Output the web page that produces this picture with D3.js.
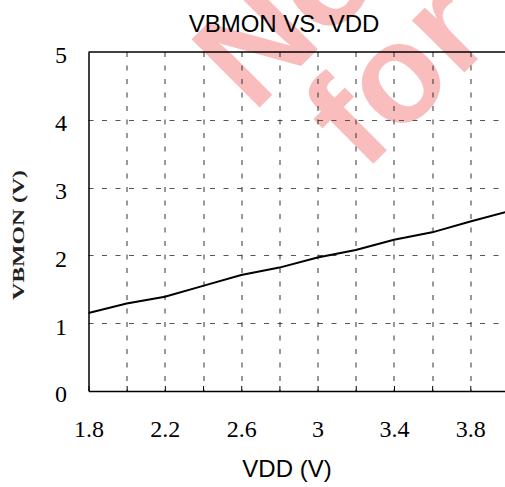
<!DOCTYPE html>
<html>
<head>
<meta charset="utf-8">
<script src="https://cdn.jsdelivr.net/npm/d3@7"></script>
<style>
  body { margin: 0; background: #fff; }
  svg { display: block; }
</style>
</head>
<body>
<script>
// VBMON vs VDD
var vdd = [1.8, 2.0, 2.2, 2.4, 2.6, 2.8, 3.0, 3.2, 3.4, 3.6, 3.8, 4.0];
var vbmon = [1.15, 1.29, 1.39, 1.55, 1.71, 1.82, 1.97, 2.08, 2.23, 2.34, 2.50, 2.65];
var xTicks = [1.8, 2.0, 2.2, 2.4, 2.6, 2.8, 3.0, 3.2, 3.4, 3.6, 3.8, 4.0];
var xLabels = ["1.8", "2.2", "2.6", "3", "3.4", "3.8"];
var yTicks = [0, 1, 2, 3, 4, 5];

var W = 505, H = 487;
var MARGINS = {left: 88.5, top: 52, right: -3.5, bottom: 96};
var width = W - MARGINS.left - MARGINS.right;
var height = H - MARGINS.top - MARGINS.bottom;

var xScale = d3.scaleLinear().domain([1.8, 4.0]).range([0, width]);
var yScale = d3.scaleLinear().domain([0, 5]).range([height, 0]);

var svg = d3.select("body").append("svg")
    .attr("width", W)
    .attr("height", H);

// watermark goes underneath everything (it is cut by the page edge in the original too)
var wm = svg.append("g")
    .style("font-family", "'Liberation Sans', Arial, sans-serif")
    .style("font-weight", "bold")
    .style("font-size", "140px")
    .attr("fill", "#fabdbd");
wm.append("text").attr("transform", "translate(253,114) rotate(-45)").text("Not");
wm.append("text").attr("transform", "translate(364,173) rotate(-45)").text("for");

var g = svg.append("g")
    .attr("transform", "translate(" + MARGINS.left + "," + MARGINS.top + ")");

// grid
g.selectAll(".hgrid").data(yTicks.slice(1, -1)).enter().append("line")
    .attr("x1", 0).attr("x2", width)
    .attr("y1", function (d) { return Math.round(yScale(d)) + 0.5; })
    .attr("y2", function (d) { return Math.round(yScale(d)) + 0.5; })
    .attr("stroke", "#555").attr("stroke-width", 1)
    .attr("stroke-dasharray", "5,8.5");
g.selectAll(".vgrid").data(xTicks.slice(1)).enter().append("line")
    .attr("x1", function (d) { return Math.round(xScale(d)) + 0.5; })
    .attr("x2", function (d) { return Math.round(xScale(d)) + 0.5; })
    .attr("y1", 0).attr("y2", height)
    .attr("stroke", "#333").attr("stroke-width", 1)
    .attr("stroke-dasharray", "5,8.5");

// top border
g.append("line").attr("x1", 0).attr("x2", width).attr("y1", 0).attr("y2", 0)
    .attr("stroke", "#000").attr("stroke-width", 1.5);

// axes
var xAxis = g.append("g")
    .attr("transform", "translate(0," + height + ")")
    .call(d3.axisBottom(xScale).tickValues(xTicks).tickSizeInner(-5).tickSizeOuter(0).tickPadding(29)
        .tickFormat(function (d, i) { return i % 2 === 0 ? xLabels[i / 2] : ""; }));
var yAxis = g.append("g")
    .call(d3.axisLeft(yScale).tickValues(yTicks).tickSizeInner(0).tickSizeOuter(0).tickPadding(21.5)
        .tickFormat(d3.format("d")));

[xAxis, yAxis].forEach(function (a) {
    a.select(".domain").attr("stroke", "#000").attr("stroke-width", 1.5);
    a.selectAll(".tick line").attr("stroke", "#000");
    a.selectAll("text")
        .attr("fill", "#000")
        .style("font-family", "'Liberation Serif', 'Times New Roman', serif")
        .style("font-weight", "normal")
        .style("font-size", "24px");
});
yAxis.selectAll("text").attr("dy", "0.45em");

// data line
var line = d3.line()
    .x(function (d, i) { return xScale(vdd[i]); })
    .y(function (d) { return yScale(d); });
g.append("path").datum(vbmon)
    .attr("d", line)
    .attr("fill", "none")
    .attr("stroke", "#000")
    .attr("stroke-width", 2);

// titles
svg.append("text")
    .attr("x", 284).attr("y", 32)
    .attr("text-anchor", "middle")
    .style("font-family", "'Liberation Sans', Arial, sans-serif")
    .style("font-size", "24px")
    .text("VBMON VS. VDD");
svg.append("text")
    .attr("x", 287).attr("y", 477)
    .attr("text-anchor", "middle")
    .style("font-family", "'Liberation Sans', Arial, sans-serif")
    .style("font-size", "24px")
    .text("VDD (V)");
svg.append("text")
    .attr("transform", "translate(24,235) rotate(-90)")
    .attr("text-anchor", "middle")
    .attr("textLength", 130).attr("lengthAdjust", "spacingAndGlyphs")
    .style("font-family", "'Liberation Serif', 'Times New Roman', serif")
    .style("font-weight", "bold")
    .style("font-size", "16px")
    .attr("fill", "#222")
    .text("VBMON (V)");
</script>
</body>
</html>
